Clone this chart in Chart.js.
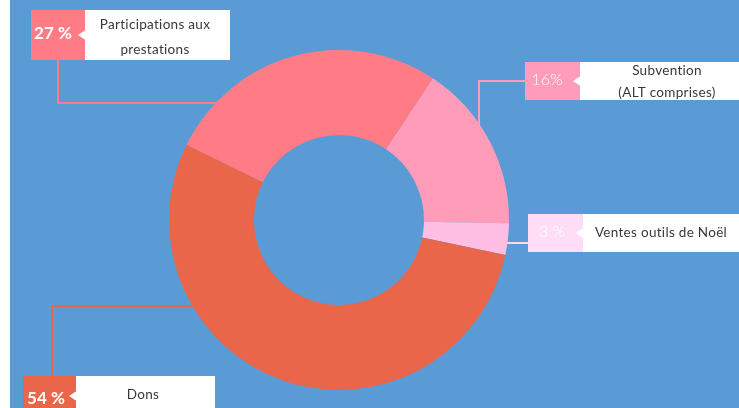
<!DOCTYPE html>
<html>
<head>
<meta charset="utf-8">
<script src="https://cdn.jsdelivr.net/npm/chart.js@4.4.0/dist/chart.umd.min.js"></script>
<style>
  html, body { margin: 0; padding: 0; background: #fff; }
  #wrap { width: 739px; height: 408px; }
</style>
</head>
<body>
<div id="wrap"><canvas id="pie"></canvas></div>
<script>
// Répartition des ressources (donut)
const categories = ['Subvention (ALT comprises)', 'Ventes outils de Noël', 'Dons', 'Participations aux prestations'];
const values = [16, 3, 54, 27];
const pctLabels = ['16%', '3 %', '54 %', '27 %'];
const colors = ['#FF9CBA', '#FFBEE3', '#E9664A', '#FF7C86'];

// callout boxes: colored tag + white label + connector line (layout only)
const callouts = [
  { tag: [525, 62, 55, 38], box: [580, 62, 170, 38], lines: ['Subvention', '(ALT comprises)'], textX: 667, textY: [71, 93],
    pctX: 547, pctBold: false, tagColor: '#FF9CBA', lineColor: '#FF9CBA',
    path: [[525, 81], [479, 81], [479, 150]] },
  { tag: [528, 214, 55, 38], box: [583, 214, 170, 38], lines: ['Ventes outils de Noël'], textX: 661, textY: [233],
    pctX: 552, pctBold: false, tagColor: '#FFDDF6', lineColor: '#FFD8F2',
    path: [[528, 243], [480, 243]] },
  { tag: [23, 376, 53, 40], box: [76, 376, 139, 40], lines: ['Dons'], textX: 143, textY: [395],
    pctX: 46, pctBold: true, tagColor: '#E9664A', lineColor: '#E9664A', pctY: 399,
    path: [[52, 376], [52, 306], [240, 306]] },
  { tag: [31, 10, 54, 50], box: [85, 10, 145, 50], lines: ['Participations aux', 'prestations'], textX: 155, textY: [25, 50],
    pctX: 53, pctBold: true, tagColor: '#FF7C86', lineColor: '#FF7C86',
    path: [[58, 60], [58, 103], [260, 103]] }
];

const background = {
  id: 'background',
  beforeDraw(chart) {
    const ctx = chart.ctx;
    ctx.save();
    ctx.fillStyle = '#ffffff';
    ctx.fillRect(0, 0, chart.width, chart.height);
    ctx.fillStyle = '#5B9BD5';
    ctx.fillRect(10, 0, chart.width - 10, chart.height);
    ctx.restore();
  },
  beforeDatasetsDraw(chart) {
    // connector lines go under the ring
    const ctx = chart.ctx;
    ctx.save();
    ctx.lineWidth = 2;
    callouts.forEach(c => {
      ctx.strokeStyle = c.lineColor;
      ctx.beginPath();
      c.path.forEach((p, i) => i ? ctx.lineTo(p[0], p[1]) : ctx.moveTo(p[0], p[1]));
      ctx.stroke();
    });
    ctx.restore();
  },
  afterDatasetsDraw(chart) {
    const ctx = chart.ctx;
    ctx.save();
    callouts.forEach((c, i) => {
      ctx.fillStyle = c.tagColor;
      ctx.fillRect(...c.tag);
      ctx.fillStyle = '#ffffff';
      ctx.fillRect(...c.box);
      // small notch pointing into the tag
      const bx = c.box[0], my = c.box[1] + c.box[3] / 2;
      ctx.beginPath();
      ctx.moveTo(bx + 0.5, my - 5);
      ctx.lineTo(bx - 7, my);
      ctx.lineTo(bx + 0.5, my + 5);
      ctx.closePath();
      ctx.fill();

      ctx.textAlign = 'center';
      ctx.textBaseline = 'middle';
      ctx.fillStyle = '#ffffff';
      ctx.letterSpacing = '0px';
      ctx.font = (c.pctBold ? 'bold 17px' : '300 16px') + ' Lato, sans-serif';
      ctx.fillText(pctLabels[i], c.pctX, c.pctY || (c.tag[1] + c.tag[3] / 2 - 1));

      ctx.fillStyle = '#383838';
      ctx.letterSpacing = '0.3px';
      ctx.font = '13.5px Lato, sans-serif';
      c.lines.forEach((t, k) => ctx.fillText(t, c.textX, c.textY[k]));
    });
    ctx.restore();
  }
};

new Chart(document.getElementById('pie'), {
  type: 'doughnut',
  data: {
    labels: categories,
    datasets: [{
      data: values,
      backgroundColor: colors,
      borderWidth: 0
    }]
  },
  options: {
    responsive: true,
    maintainAspectRatio: false,
    animation: false,
    rotation: 33.5,
    cutout: '50%',
    layout: { padding: { left: 169, right: 230, top: 50, bottom: 18 } },
    plugins: {
      legend: { display: false },
      tooltip: { enabled: false }
    }
  },
  plugins: [background]
});
</script>
</body>
</html>
